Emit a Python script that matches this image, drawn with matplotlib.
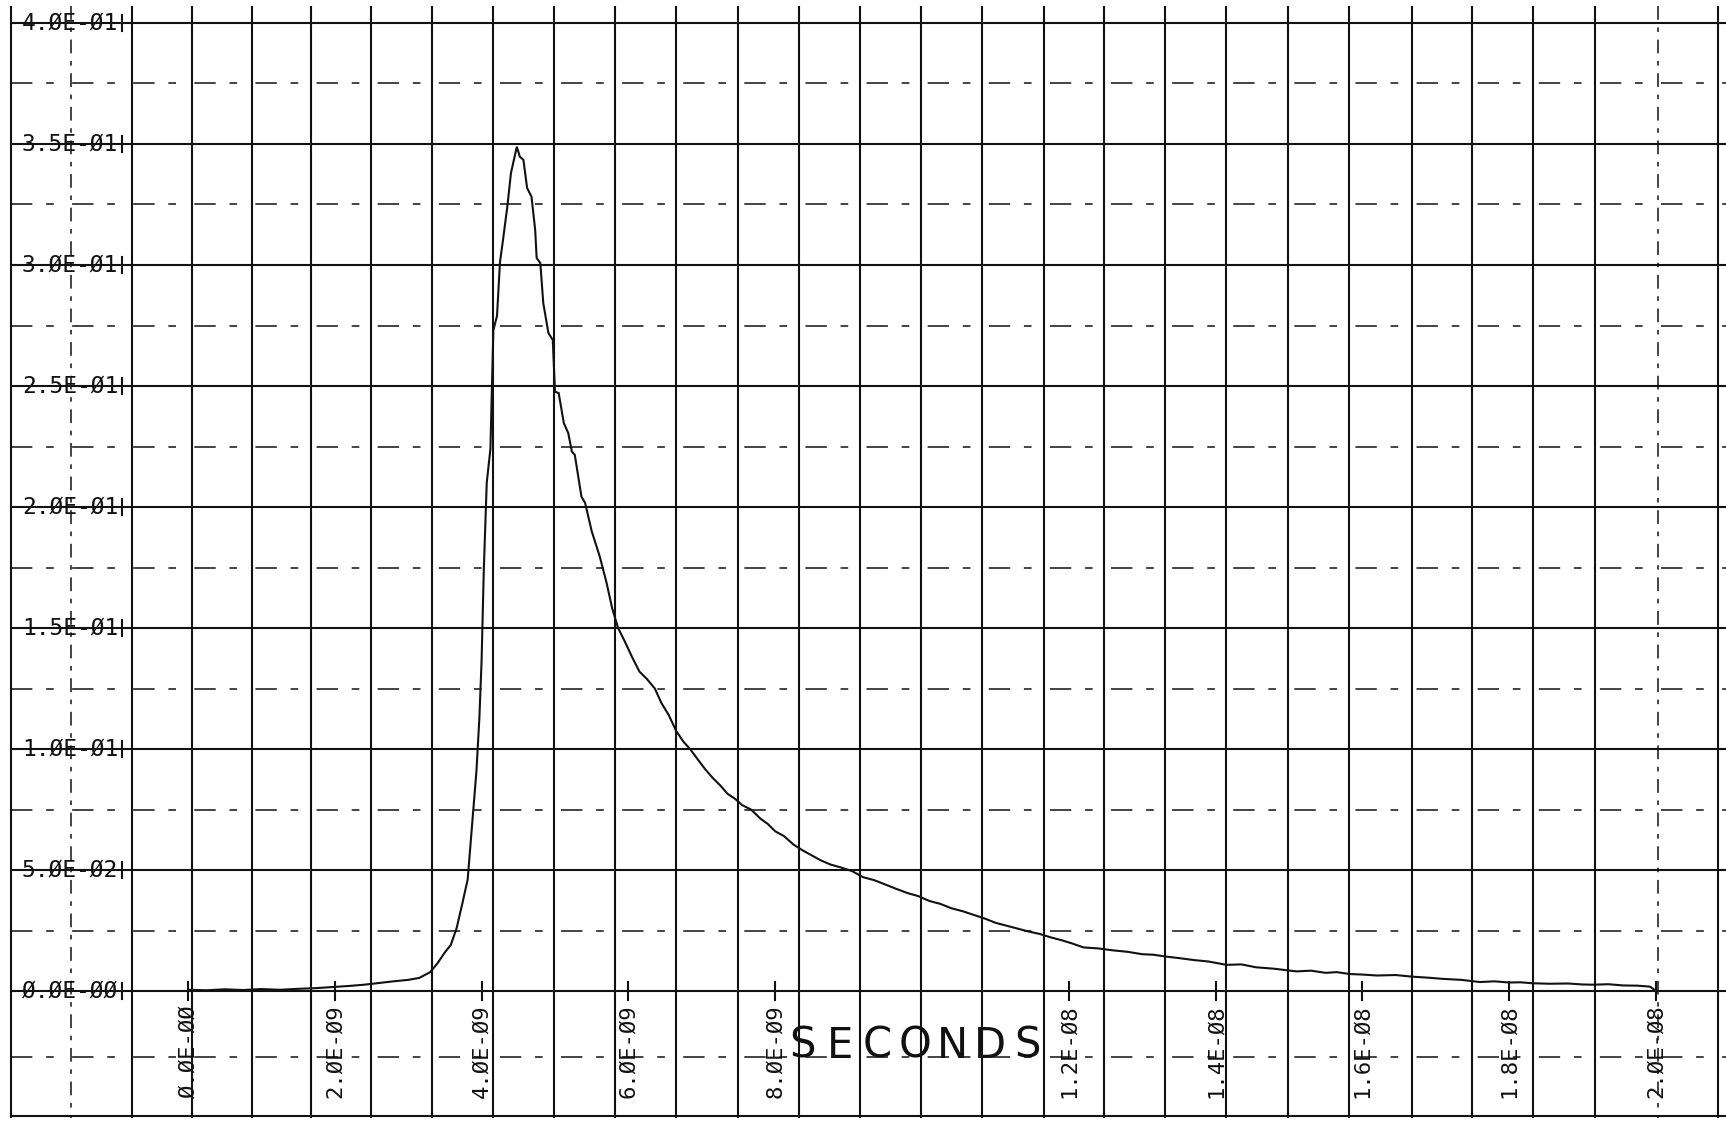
import matplotlib
matplotlib.use("Agg")
import matplotlib.pyplot as plt

# Detector pulse record: time in ns, amplitude
time_ns = [
    0.00, 0.25, 0.50, 0.75, 1.00, 1.25, 1.50, 1.75, 2.00, 2.20, 2.40, 2.60,
    2.80, 3.00, 3.15, 3.30, 3.40, 3.50, 3.58, 3.66, 3.74, 3.81, 3.88, 3.93,
    3.97, 4.00, 4.03, 4.07, 4.12, 4.14, 4.16, 4.21, 4.25, 4.29, 4.35, 4.40,
    4.48, 4.52, 4.57, 4.62, 4.68, 4.73, 4.75, 4.80, 4.84, 4.91, 4.97, 5.00,
    5.05, 5.12, 5.18, 5.23, 5.27, 5.36, 5.41, 5.50, 5.61, 5.70, 5.78, 5.86,
    5.95, 6.05, 6.15, 6.25, 6.36, 6.45, 6.55, 6.65, 6.75, 6.84, 6.95, 7.05,
    7.15, 7.25, 7.35, 7.45, 7.55, 7.67, 7.80, 7.90, 8.00, 8.12, 8.25, 8.38,
    8.50, 8.62, 8.75, 8.90, 9.05, 9.20, 9.35, 9.50, 9.65, 9.80, 9.95, 10.10,
    10.25, 10.40, 10.55, 10.70, 10.85, 11.00, 11.15, 11.30, 11.45, 11.60,
    11.75, 11.90, 12.05, 12.20, 12.40, 12.60, 12.80, 13.00, 13.15, 13.33,
    13.50, 13.70, 13.90, 14.15, 14.35, 14.55, 14.80, 15.10, 15.30, 15.50,
    15.65, 15.83, 16.00, 16.20, 16.45, 16.69, 16.90, 17.10, 17.35, 17.60,
    17.80, 18.00, 18.15, 18.32, 18.55, 18.80, 19.00, 19.14, 19.35, 19.55,
    19.75, 19.92, 20.00,
]
amplitude = [
    0.0005, 0.0003, 0.0007, 0.0004, 0.0008, 0.0005, 0.0009, 0.0012, 0.0017,
    0.0021, 0.0026, 0.0033, 0.0040, 0.0046, 0.0054, 0.0078, 0.0115, 0.0160,
    0.0190, 0.0260, 0.0365, 0.0460, 0.0720, 0.0910, 0.1130, 0.1366, 0.1740,
    0.2100, 0.2240, 0.2480, 0.2730, 0.2790, 0.3010, 0.3100, 0.3240, 0.3380,
    0.3489, 0.3448, 0.3434, 0.3318, 0.3282, 0.3145, 0.3029, 0.3008, 0.2843,
    0.2719, 0.2690, 0.2476, 0.2471, 0.2347, 0.2306, 0.2229, 0.2215, 0.2043,
    0.2017, 0.1900, 0.1795, 0.1690, 0.1580, 0.1500, 0.1445, 0.1380, 0.1320,
    0.1290, 0.1250, 0.1190, 0.1140, 0.1075, 0.1030, 0.1000, 0.0955, 0.0915,
    0.0880, 0.0850, 0.0815, 0.0795, 0.0768, 0.0750, 0.0712, 0.0690, 0.0660,
    0.0640, 0.0605, 0.0580, 0.0560, 0.0540, 0.0523, 0.0510, 0.0495, 0.0470,
    0.0458, 0.0440, 0.0422, 0.0405, 0.0392, 0.0372, 0.0360, 0.0342, 0.0330,
    0.0315, 0.0300, 0.0282, 0.0270, 0.0258, 0.0246, 0.0236, 0.0222, 0.0210,
    0.0196, 0.0180, 0.0176, 0.0168, 0.0162, 0.0152, 0.0150, 0.0142, 0.0136,
    0.0128, 0.0122, 0.0108, 0.0110, 0.0098, 0.0092, 0.0081, 0.0084, 0.0075,
    0.0078, 0.0070, 0.0068, 0.0064, 0.0066, 0.0059, 0.0055, 0.0050, 0.0046,
    0.0037, 0.0040, 0.0035, 0.0036, 0.0032, 0.0030, 0.0031, 0.0027, 0.0026,
    0.0028, 0.0023, 0.0022, 0.0018, 0.0000,
]

y_tick_values = [0.0, 0.05, 0.10, 0.15, 0.20, 0.25, 0.30, 0.35, 0.40]
y_tick_labels = ["Ø.ØE-ØØ", "5.ØE-Ø2", "1.ØE-Ø1", "1.5E-Ø1", "2.ØE-Ø1",
                 "2.5E-Ø1", "3.ØE-Ø1", "3.5E-Ø1", "4.ØE-Ø1"]
x_tick_values = [0, 2, 4, 6, 8, 12, 14, 16, 18, 20]
x_tick_labels = ["Ø.ØE-ØØ", "2.ØE-Ø9", "4.ØE-Ø9", "6.ØE-Ø9", "8.ØE-Ø9",
                 "1.2E-Ø8", "1.4E-Ø8", "1.6E-Ø8", "1.8E-Ø8", "2.ØE-Ø8"]
x_axis_title = "SECONDS"

W, H = 1726, 1123
fig = plt.figure(figsize=(W / 100, H / 100), dpi=100)
fig.patch.set_facecolor("white")
ax = fig.add_axes([0, 0, 1, 1])
ax.set_axis_off()

# plotter sheet scale: pixel of the data origin and pixels per unit
X0, XS = 188.0, 73.4      # px at t = 0, px per ns
Y0, YS = 991.0, 2420.0    # px at amplitude 0, px per unit amplitude
ax.set_xlim(-X0 / XS, (W - X0) / XS)
ax.set_ylim(-(H - Y0) / YS, Y0 / YS)


def sx(p):
    return (p - X0) / XS


def sy(p):
    return (Y0 - p) / YS


ink = "#111111"

# graph-paper rulings
paper_cols = [11, 71, 132, 192, 252, 311, 371, 432, 493, 554, 615, 676, 738,
              799, 860, 921, 982, 1044, 1104, 1165, 1226, 1288, 1349, 1412,
              1472, 1533, 1595, 1658, 1718]
dashed_cols = {71, 1658}
for c in paper_cols:
    if c in dashed_cols:
        ax.plot([sx(c), sx(c)], [sy(6), sy(1118)], color=ink, lw=1.1,
                linestyle=(0, (9, 5, 3, 5)))
    else:
        ax.plot([sx(c), sx(c)], [sy(6), sy(1118)], color=ink, lw=1.5,
                solid_capstyle="butt")

for v in y_tick_values:
    ax.plot([sx(11), sx(W)], [v, v], color=ink, lw=1.5, solid_capstyle="butt")
for k in range(8):
    v = 0.025 + 0.05 * k
    ax.plot([sx(11), sx(W)], [v, v], color=ink, lw=1.1,
            linestyle=(0, (14, 9, 5, 12)))
ax.plot([sx(11), sx(W)], [sy(1057), sy(1057)], color=ink, lw=1.1,
        linestyle=(0, (14, 9, 5, 12)))
ax.plot([sx(11), sx(W)], [sy(1116), sy(1116)], color=ink, lw=1.5)

# axis ticks and labels
mono = "DejaVu Sans Mono"
for v, lab in zip(y_tick_values, y_tick_labels):
    ax.plot([sx(122), sx(122)], [v - 8 / YS, v + 8 / YS], color=ink, lw=1.5)
    ax.text(sx(118), v, lab, ha="right", va="center", fontsize=16.5,
            family=mono, color=ink)

for t, lab in zip(x_tick_values, x_tick_labels):
    ax.plot([t, t], [sy(982), sy(1000)], color=ink, lw=1.5)
    ax.text(t, sy(1004), lab, rotation=90, ha="center", va="top",
            fontsize=16, family=mono, color=ink)

for i, ch in enumerate(x_axis_title):
    ax.text(sx(802 + 37.6 * i), sy(1046), ch, ha="center", va="center",
            fontsize=30, family="DejaVu Sans", color=ink)

# the pulse trace
ax.plot(time_ns, amplitude, color=ink, lw=1.5, solid_joinstyle="miter")

fig.savefig("out.png", dpi=100, facecolor="white")
